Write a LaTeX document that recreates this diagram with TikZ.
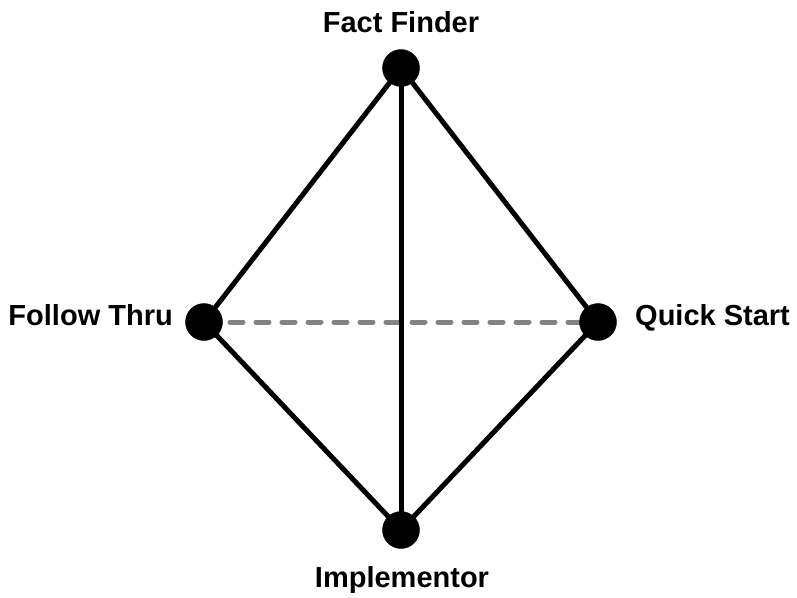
\documentclass[tikz,border=0pt]{standalone}
\usepackage{fontspec}
\setmainfont{Liberation Sans}
\usepackage{tikz}

\tikzset{
	lbl/.style = {inner sep = 0pt, font = \fontsize{29}{34}\selectfont\bfseries},
	edge/.style = {line width = 5pt, black},
	ghost/.style = {line width = 5pt, color = {rgb,255:red,131;green,131;blue,133}, dash pattern = on 13pt off 13pt, line cap = round}
}

\begin{document}
\begin{tikzpicture}[x=1pt, y=-1pt]
			\def\r{18.5};
			
			\useasboundingbox (0,0) rectangle (797,597);
			
			\coordinate (fact) at (401,68);
			\coordinate (follow) at (204,322);
			\coordinate (quick) at (598,322);
			\coordinate (impl) at (401,530);
			
			\draw [ghost] (follow) -- (quick);
			
			\begin{scope}[edge]
				\draw (fact) -- (follow) -- (impl) -- (quick) -- cycle;
				\draw (fact) -- (impl);
			\end{scope}
			
			\filldraw (fact) circle [radius = \r];
			\filldraw (follow) circle [radius = \r];
			\filldraw (quick) circle [radius = \r];
			\filldraw (impl) circle [radius = \r];
			
			\node [lbl, anchor = base] (factlbl) at (401,32) {Fact Finder};
			\node [lbl, anchor = base east] (followlbl) at (173,325) {Follow Thru};
			\node [lbl, anchor = base west] (quicklbl) at (635,325) {Quick Start};
			\node [lbl, anchor = base] (impllbl) at (402,587) {Implementor};
		\end{tikzpicture}
\end{document}
